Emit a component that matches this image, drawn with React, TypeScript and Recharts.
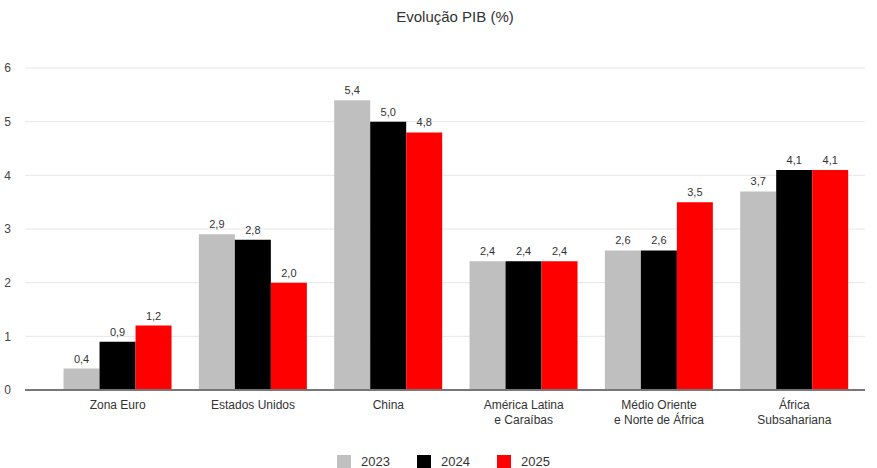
import { BarChart, Bar, XAxis, YAxis, CartesianGrid, Legend, LabelList } from "recharts";

const regions = [
  "Zona Euro",
  "Estados Unidos",
  "China",
  "América Latina\ne Caraíbas",
  "Médio Oriente\ne Norte de África",
  "África\nSubsahariana",
];
const pib2023 = [0.4, 2.9, 5.4, 2.4, 2.6, 3.7];
const pib2024 = [0.9, 2.8, 5.0, 2.4, 2.6, 4.1];
const pib2025 = [1.2, 2.0, 4.8, 2.4, 3.5, 4.1];
const yTicks = [0, 1, 2, 3, 4, 5, 6];

const series = [
  { key: "y2023", name: "2023", color: "#bfbfbf" },
  { key: "y2024", name: "2024", color: "#000000" },
  { key: "y2025", name: "2025", color: "#ff0000" },
];

const data = regions.map((region, i) => ({
  region,
  y2023: pib2023[i],
  y2024: pib2024[i],
  y2025: pib2025[i],
}));

const FONT = "'Liberation Sans', Arial, sans-serif";

const fmt = (v: any) => Number(v).toFixed(1).replace(".", ",");

function RegionTick({ x, y, payload }: any) {
  const lines = String(payload.value).split("\n");
  return (
    <text x={x} y={y} textAnchor="middle" fill="#333" fontSize={12} fontFamily={FONT}>
      {lines.map((line, i) => (
        <tspan key={i} x={x} dy={i === 0 ? 11 : 15}>
          {line}
        </tspan>
      ))}
    </text>
  );
}

function YearLegend() {
  return (
    <div
      style={{
        display: "flex",
        justifyContent: "center",
        gap: 27,
        paddingTop: 18,
        paddingLeft: 22,
        fontFamily: FONT,
        fontSize: 13,
        color: "#333",
      }}
    >
      {series.map((s) => (
        <div key={s.key} style={{ display: "flex", alignItems: "center" }}>
          <span style={{ width: 14, height: 14, background: s.color, display: "inline-block", marginRight: 10 }} />
          {s.name}
        </div>
      ))}
    </div>
  );
}

export default function App() {
  return (
    <div style={{ position: "absolute", left: 0, top: 0, width: 877, height: 468, background: "#fff" }}>
      <div
        style={{
          position: "absolute",
          top: 8,
          left: 0,
          width: 910,
          textAlign: "center",
          fontFamily: FONT,
          fontSize: 15,
          color: "#333",
        }}
      >
        Evolução PIB (%)
      </div>
      <BarChart
        width={877}
        height={468}
        data={data}
        margin={{ top: 68, right: 12, left: 0, bottom: 0 }}
        barCategoryGap="10%"
        barGap={0}
      >
        <CartesianGrid vertical={false} stroke="#e6e6e6" />
        <XAxis
          dataKey="region"
          tick={<RegionTick />}
          tickLine={false}
          axisLine={{ stroke: "#777", strokeWidth: 2 }}
          interval={0}
          height={46}
          padding={{ left: 25, right: 3 }}
        />
        <YAxis
          width={25}
          domain={[0, 6]}
          ticks={yTicks}
          axisLine={false}
          tickLine={false}
          tickMargin={8}
          tick={{ fill: "#444", fontSize: 12, fontFamily: FONT }}
        />
        <Legend verticalAlign="bottom" height={32} content={<YearLegend />} />
        {series.map((s) => (
          <Bar key={s.key} dataKey={s.key} name={s.name} fill={s.color} isAnimationActive={false}>
            <LabelList
              dataKey={s.key}
              position="top"
              offset={6}
              formatter={fmt}
              fill="#333"
              fontSize={11}
              fontFamily={FONT}
            />
          </Bar>
        ))}
      </BarChart>
    </div>
  );
}
